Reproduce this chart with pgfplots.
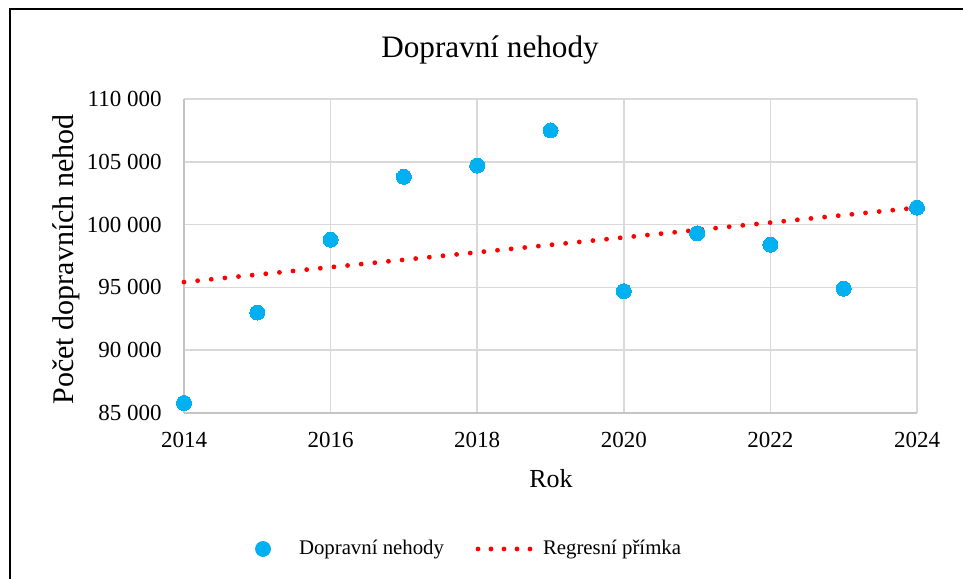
\documentclass[border=0pt]{standalone}
\usepackage{fontspec}
\setmainfont{Liberation Serif}
\usepackage{pgfplots}
\pgfplotsset{compat=1.18}
\definecolor{cblue}{HTML}{00B0F0}
\definecolor{cred}{HTML}{FF0000}
\definecolor{cgrid}{HTML}{D9D9D9}
\definecolor{caxis}{HTML}{C4C4C4}
\begin{document}
\begin{tikzpicture}
\useasboundingbox (0,0) rectangle (481.5bp,289.5bp);
\draw[line width=1bp,black] (5bp,0) -- (5bp,285bp) -- (481.5bp,285bp);
\begin{axis}[
  at={(92bp,83bp)}, anchor=south west,
  scale only axis, width=366.5bp, height=157bp,
  xmin=2014, xmax=2024, ymin=85000, ymax=110000,
  scaled y ticks=false, scaled x ticks=false,
  xtick={2014,2016,2018,2020,2022,2024},
  xticklabels={2014,2016,2018,2020,2022,2024},
  ytick={85000,90000,95000,100000,105000,110000},
  yticklabels={85 000,90 000,95 000,100 000,105 000,110 000},
  major tick length=0pt,
  grid=major, grid style={draw=cgrid, line width=0.8bp},
  axis x line*=bottom, axis y line*=left,
  axis line style={draw=caxis, line width=0.9bp, -},
  tick label style={font=\fontsize{11.5bp}{13bp}\selectfont, inner sep=0pt},
  yticklabel shift=11bp, xticklabel shift=9.5bp,
  clip=false,
  title={Dopravní nehody},
  title style={font=\fontsize{15.6bp}{18bp}\selectfont, at={(axis description cs:0.4175,1.1306)}, anchor=base, inner sep=0pt, yshift=-5.5bp},
  xlabel={Rok},
  xlabel style={font=\fontsize{13bp}{15bp}\selectfont, at={(axis description cs:0.5007,-0.238)}, anchor=base, inner sep=0pt},
  ylabel={Počet dopravních nehod},
  ylabel style={font=\fontsize{15bp}{17bp}\selectfont, at={(axis description cs:-0.1505,0.4889)}, anchor=base, inner sep=0pt},
  legend columns=2,
  legend style={draw=none, fill=none, at={(axis description cs:0.3875,-0.433)}, anchor=center,
    font=\fontsize{10.4bp}{12bp}\selectfont, column sep=0pt, inner sep=0pt,
    nodes={inner sep=0pt}, cells={anchor=west}},
]
\addplot[cblue, only marks, mark=*, mark size=3.75bp, mark options={fill=cblue, draw=cblue, line width=0pt},
  legend image code/.code={\path[draw=none] (-4bp,0) -- (18bp,0); \fill[cblue] (0,0) circle (3.75bp);}]
  coordinates {
  (2014,85800) (2015,93000) (2016,98800) (2017,103800) (2018,104700)
  (2019,107500) (2020,94700) (2021,99300) (2022,98400) (2023,94900) (2024,101350)
  };
\addlegendentry{Dopravní nehody}
\addplot[cred, line width=2.4bp, line cap=round, dash pattern=on 0pt off 6.85bp,
  legend image code/.code={\path[draw=none] (-17bp,0) -- (32.5bp,0); \draw[cred, line width=2.4bp, line cap=round, dash pattern=on 0pt off 6.5bp] (0,0) -- (26.1bp,0);}]
  coordinates {(2014,95425) (2024,101347)};
\addlegendentry{Regresní přímka}
\end{axis}
\end{tikzpicture}
\end{document}
